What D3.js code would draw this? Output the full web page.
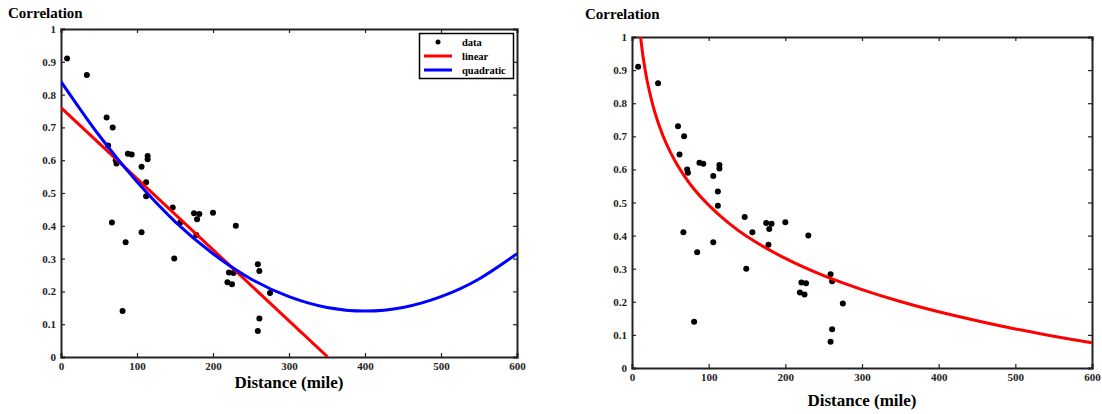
<!DOCTYPE html>
<html>
<head>
<meta charset="utf-8">
<script src="https://cdn.jsdelivr.net/npm/d3@7"></script>
<style>
  body { margin: 0; background: #fff; }
  svg text { font-family: "Times New Roman", "Liberation Serif", Times, "DejaVu Serif", serif !important; font-weight: bold; }
</style>
</head>
<body>
<div id="chart"></div>
<script>
// distance (mile) and correlation of each observation
var distances = [8, 34, 60, 68, 62, 72, 73, 88, 93, 114, 114, 106, 112, 112, 67, 85, 81, 106,
                 147, 157, 149, 175, 179, 182, 178, 200, 230, 219, 221, 225, 227, 259, 261, 261, 259, 275];
var correlations = [0.91, 0.86, 0.73, 0.70, 0.645, 0.60, 0.59, 0.62, 0.617, 0.613, 0.603, 0.58, 0.533, 0.49, 0.41, 0.35, 0.14, 0.38,
                    0.456, 0.41, 0.30, 0.438, 0.42, 0.436, 0.372, 0.44, 0.40, 0.228, 0.258, 0.222, 0.256, 0.283, 0.262, 0.117, 0.079, 0.195];

// fitted curves
var linearX = [0, 351];
var linearY = [0.76, 0];
var quadX = [0, 50, 100, 150, 200, 250, 300, 350, 400, 450, 500, 550, 600];
var quadY = [0.84, 0.676, 0.534, 0.413, 0.315, 0.238, 0.184, 0.151, 0.14, 0.151, 0.184, 0.238, 0.315];
var logX = [11.2, 15, 20, 30, 40, 50, 60, 80, 100, 125, 150, 200, 250, 300, 350, 400, 450, 500, 550, 600];
var logY = [1.0, 0.932, 0.865, 0.771, 0.704, 0.652, 0.610, 0.543, 0.492, 0.440, 0.397, 0.331, 0.279, 0.237, 0.201, 0.170, 0.143, 0.118, 0.096, 0.076];

var xTicks = [0, 100, 200, 300, 400, 500, 600];
var yTicks = [0, 0.1, 0.2, 0.3, 0.4, 0.5, 0.6, 0.7, 0.8, 0.9, 1];
var legendLabels = ["data", "linear", "quadratic"];

var serif = "'Times New Roman', 'Liberation Serif', Times, 'DejaVu Serif', serif";

var svg = d3.select("#chart").append("svg")
  .attr("width", 1102)
  .attr("height", 414);

function zip(xs, ys) {
  return xs.map(function(x, i) { return [x, ys[i]]; });
}

// draws one panel; returns scales
function panel(box, titlePos, labelY) {
  var x = d3.scaleLinear().domain([0, 600]).range([box.left, box.right]);
  var y = d3.scaleLinear().domain([0, 1]).range([box.bottom, box.top]);
  var g = svg.append("g");

  // ticks pointing inward on all four sides
  var ax = [
    d3.axisBottom(x).tickValues(xTicks).tickSize(-4).tickFormat(d3.format("d")),
    d3.axisTop(x).tickValues(xTicks).tickSize(-4).tickFormat(""),
    d3.axisLeft(y).tickValues(yTicks).tickSize(-4).tickFormat(function(d) { return d === 1 || d === 0 ? d : d.toFixed(1); }),
    d3.axisRight(y).tickValues(yTicks).tickSize(-4).tickFormat("")
  ];
  var pos = [
    "translate(0," + box.bottom + ")",
    "translate(0," + box.top + ")",
    "translate(" + box.left + ",0)",
    "translate(" + box.right + ",0)"
  ];
  ax.forEach(function(a, i) {
    var ag = g.append("g").attr("transform", pos[i]).call(a)
      .attr("font-family", serif);
    ag.select(".domain").attr("stroke", "#222").attr("stroke-width", 2);
    ag.selectAll(".tick line").attr("stroke", "#222").attr("stroke-width", 1.2);
    ag.selectAll(".tick text")
      .attr("font-size", 11)
      .attr("fill", "#222");
    if (i === 0) ag.selectAll(".tick text").attr("dy", "0.95em").attr("y", 3);
    if (i === 2) ag.selectAll(".tick text").attr("x", -5);
  });

  svg.append("text")
    .attr("x", titlePos[0]).attr("y", titlePos[1])
    .attr("font-size", 15)
    .text("Correlation");

  svg.append("text")
    .attr("x", (box.left + box.right) / 2).attr("y", labelY)
    .attr("text-anchor", "middle")
    .attr("font-size", 17)
    .text("Distance (mile)");

  return { x: x, y: y, g: g, box: box };
}

function drawCurve(p, xs, ys, color, curve) {
  var clipId = "clip" + Math.round(p.box.left);
  if (svg.select("#" + clipId).empty()) {
    svg.append("clipPath").attr("id", clipId).append("rect")
      .attr("x", p.box.left).attr("y", p.box.top)
      .attr("width", p.box.right - p.box.left).attr("height", p.box.bottom - p.box.top);
  }
  var line = d3.line()
    .x(function(d) { return p.x(d[0]); })
    .y(function(d) { return p.y(d[1]); })
    .curve(curve);
  svg.append("path")
    .datum(zip(xs, ys))
    .attr("clip-path", "url(#" + clipId + ")")
    .attr("fill", "none")
    .attr("stroke", color)
    .attr("stroke-width", 3)
    .attr("d", line);
}

function drawPoints(p) {
  svg.append("g").selectAll("circle")
    .data(zip(distances, correlations))
    .enter().append("circle")
    .attr("cx", function(d) { return p.x(d[0]); })
    .attr("cy", function(d) { return p.y(d[1]); })
    .attr("r", 3)
    .attr("fill", "#000");
}

// left panel: linear and quadratic fits
var left = panel({ left: 61, right: 517, top: 29, bottom: 357 }, [8, 18], 388);
drawPoints(left);
drawCurve(left, linearX, linearY, "#ff0000", d3.curveLinear);
drawCurve(left, quadX, quadY, "#0000ff", d3.curveNatural);

// legend
var lg = svg.append("g");
lg.append("rect")
  .attr("x", 419.5).attr("y", 33.5).attr("width", 94).attr("height", 45)
  .attr("fill", "#fff").attr("stroke", "#000").attr("stroke-width", 1.5);
var legendColors = [null, "#ff0000", "#0000ff"];
legendLabels.forEach(function(lab, i) {
  var cy = 42 + i * 14;
  if (legendColors[i] === null) {
    lg.append("circle").attr("cx", 438).attr("cy", cy).attr("r", 2.5).attr("fill", "#000");
  } else {
    lg.append("line").attr("x1", 424).attr("x2", 452).attr("y1", cy).attr("y2", cy)
      .attr("stroke", legendColors[i]).attr("stroke-width", 3);
  }
  lg.append("text").attr("x", 462).attr("y", cy + 4).attr("font-size", 10.5).text(lab);
});

// right panel: logarithmic fit
var right = panel({ left: 632, right: 1092, top: 37, bottom: 368 }, [585, 19], 406);
drawPoints(right);
drawCurve(right, logX, logY, "#ff0000", d3.curveCatmullRom);
</script>
</body>
</html>
